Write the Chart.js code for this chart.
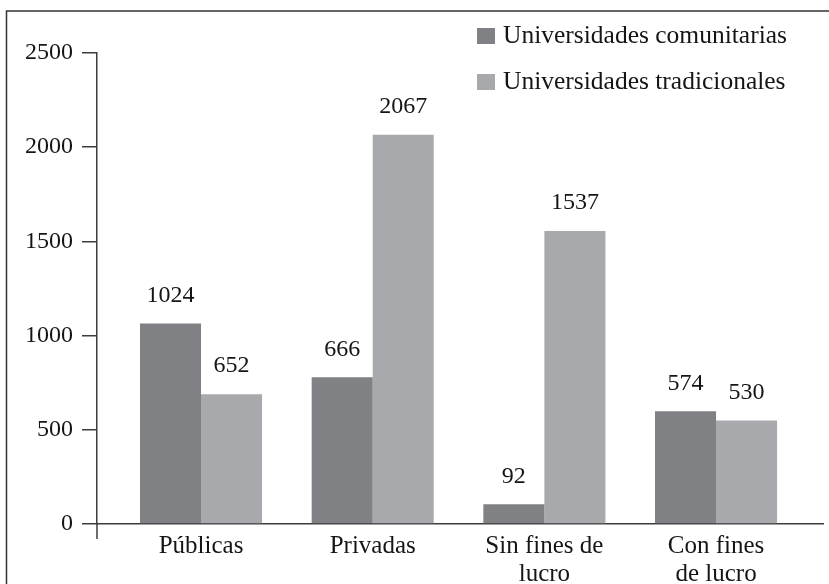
<!DOCTYPE html>
<html>
<head>
<meta charset="utf-8">
<script src="https://cdn.jsdelivr.net/npm/chart.js@4.4.1/dist/chart.umd.min.js"></script>
<style>
    html, body { margin: 0; padding: 0; background: #ffffff; }
    #chart-box { position: relative; width: 829px; height: 584px; }
</style>
</head>
<body>
<div id="chart-box"><canvas id="chart-area"></canvas></div>
<script>
//categories on x axis (multi line labels)
var categories = [["Públicas"], ["Privadas"], ["Sin fines de", "lucro"], ["Con fines", "de lucro"]];
var seriesNames = ["Universidades comunitarias", "Universidades tradicionales"];

//bar heights as drawn in the picture
var comunitariasValues = [1064, 779, 105, 598];
var tradicionalesValues = [689, 2066, 1555, 550];

//numbers printed above the bars
var comunitariasLabels = ["1024", "666", "92", "574"];
var tradicionalesLabels = ["652", "2067", "1537", "530"];

var yTicks = [0, 500, 1000, 1500, 2000, 2500];

var darkGrey = '#808185';
var lightGrey = '#a8a9ad';
var lineColor = '#3c3c3c';
var textColor = '#151515';
var fontFamily = '"Liberation Serif", "Times New Roman", serif';

var chart;

function toPoints(values) {
    var pts = [];
    for (var i = 0; i < values.length; i++) {
        pts.push({ x: i, y: values[i] });
    }
    return pts;
}

//outer frame, only left and top sides are visible
var framePlugin = {
    id: 'frame',
    beforeDraw: function (c) {
        var ctx = c.ctx;
        ctx.save();
        ctx.strokeStyle = '#333333';
        ctx.lineWidth = 1.5;
        ctx.beginPath();
        ctx.moveTo(6.5, 590);
        ctx.lineTo(6.5, 11);
        ctx.lineTo(835, 11);
        ctx.stroke();
        ctx.restore();
    }
};

//y axis goes a bit below the x axis
var axisExtraPlugin = {
    id: 'axisExtra',
    afterDraw: function (c) {
        var ctx = c.ctx;
        var a = c.chartArea;
        ctx.save();
        ctx.strokeStyle = lineColor;
        ctx.lineWidth = 1.5;
        ctx.beginPath();
        ctx.moveTo(a.left, a.bottom);
        ctx.lineTo(a.left, a.bottom + 15);
        ctx.stroke();
        ctx.restore();
    }
};

//value labels above every bar
var valueLabelsPlugin = {
    id: 'valueLabels',
    afterDatasetsDraw: function (c) {
        var ctx = c.ctx;
        var texts = [comunitariasLabels, tradicionalesLabels];
        ctx.save();
        ctx.font = '24px ' + fontFamily;
        ctx.fillStyle = textColor;
        ctx.textAlign = 'center';
        ctx.textBaseline = 'middle';
        for (var d = 0; d < c.data.datasets.length; d++) {
            var meta = c.getDatasetMeta(d);
            for (var i = 0; i < meta.data.length; i++) {
                var bar = meta.data[i];
                ctx.fillText(texts[d][i], bar.x, bar.y - 28);
            }
        }
        ctx.restore();
    }
};

//legend built by hand: stacked at top right
var legendPlugin = {
    id: 'handLegend',
    afterDraw: function (c) {
        var ctx = c.ctx;
        ctx.save();
        ctx.font = '25.5px ' + fontFamily;
        ctx.textBaseline = 'middle';
        ctx.textAlign = 'left';
        for (var d = 0; d < c.data.datasets.length; d++) {
            var ds = c.data.datasets[d];
            var cy = 36 + d * 46;
            ctx.fillStyle = ds.backgroundColor;
            ctx.fillRect(477, cy - 8, 18, 16);
            ctx.fillStyle = textColor;
            ctx.fillText(ds.label, 503, cy);
        }
        ctx.restore();
    }
};

function buildChart() {
    var chartArea = document.getElementById("chart-area");
    if (chart) {
        chart.destroy();
    }

    chart = new Chart(chartArea.getContext("2d"), {
        type: 'bar',
        plugins: [framePlugin, axisExtraPlugin, valueLabelsPlugin, legendPlugin],
        data: {
            datasets: [
                {
                    label: seriesNames[0],
                    data: toPoints(comunitariasValues),
                    backgroundColor: darkGrey,
                    borderWidth: 0,
                    categoryPercentage: 0.711,
                    barPercentage: 1.0
                },
                {
                    label: seriesNames[1],
                    data: toPoints(tradicionalesValues),
                    backgroundColor: lightGrey,
                    borderWidth: 0,
                    categoryPercentage: 0.711,
                    barPercentage: 1.0
                }
            ]
        },
        options: {
            responsive: true,
            maintainAspectRatio: false,
            animation: false,
            events: [],
            layout: {
                padding: { top: 53, left: 0, right: 6, bottom: 0 }
            },
            plugins: {
                legend: { display: false },
                tooltip: { enabled: false },
                title: { display: false }
            },
            scales: {
                x: {
                    type: 'linear',
                    offset: false,
                    min: -0.606,
                    max: 3.623,
                    afterBuildTicks: function (scale) {
                        scale.ticks = categories.map(function (c, i) { return { value: i }; });
                    },
                    afterFit: function (scale) {
                        scale.height = 60;
                    },
                    grid: { display: false, drawTicks: false },
                    border: { display: true, color: lineColor, width: 1.5 },
                    ticks: {
                        autoSkip: false,
                        maxRotation: 0,
                        padding: 8,
                        color: textColor,
                        font: { family: fontFamily, size: 25, lineHeight: 1.12 },
                        callback: function (value) {
                            return categories[value];
                        }
                    }
                },
                y: {
                    min: 0,
                    max: 2500,
                    afterBuildTicks: function (scale) {
                        scale.ticks = yTicks.map(function (v) { return { value: v }; });
                    },
                    afterFit: function (scale) {
                        scale.width = 97;
                    },
                    grid: {
                        drawOnChartArea: false,
                        drawTicks: true,
                        tickLength: 15,
                        color: lineColor,
                        lineWidth: 1.5
                    },
                    border: { display: true, color: lineColor, width: 1.5 },
                    ticks: {
                        padding: 9,
                        color: textColor,
                        font: { family: fontFamily, size: 24 },
                        //plain numbers, no thousands separator
                        callback: function (value) {
                            return String(value);
                        }
                    }
                }
            }
        }
    });
}

buildChart();
</script>
</body>
</html>
